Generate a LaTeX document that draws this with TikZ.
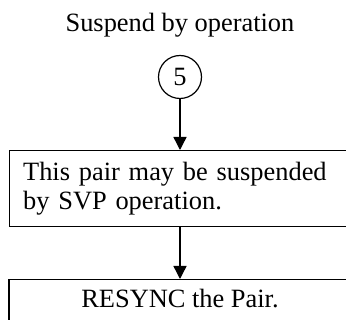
\documentclass[tikz,border=0pt]{standalone}
\usepackage{fontspec}
\setmainfont{Liberation Serif}
\usetikzlibrary{arrows.meta}
\begin{document}
\begin{tikzpicture}[x=1pt,y=-1pt,
  every node/.style={font=\fontsize{26.4}{29}\selectfont},
  box/.style={draw,line width=1.3pt,rectangle,inner sep=0pt},
  conn/.style={line width=1.4pt,-{Triangle[length=13pt,width=13pt]}},
  num/.style={draw,circle,line width=1.2pt,minimum size=43pt,inner sep=0pt}]
\useasboundingbox (0,0) rectangle (346,320);
\node[anchor=base] (title) at (180,32) {Suspend by operation};
\node[num] (c5) at (180,77) {5};
\node[box,anchor=north west,text width=315pt,align=left,inner xsep=13.5pt,
      minimum height=76pt] (b1) at (9,150)
      {This pair may be suspended\\by SVP operation.};
\node[box,anchor=north,minimum width=342pt,text height=18pt,text depth=40pt,inner ysep=10pt] (b2) at (180,279) {RESYNC the Pair.};
\draw[conn] (c5.south) -- (c5.south |- b1.north);
\draw[conn] (b1.south -| c5.south) -- (c5.south |- b2.north);
\end{tikzpicture}
\end{document}
